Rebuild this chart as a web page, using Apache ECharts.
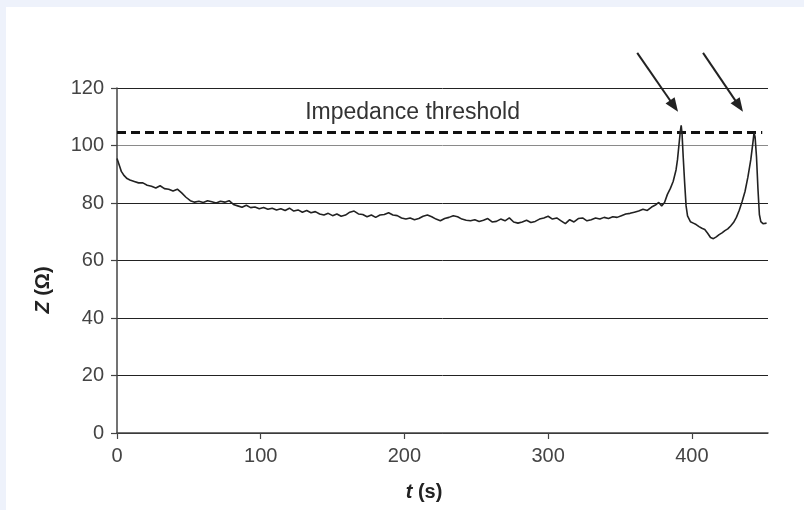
<!DOCTYPE html>
<html>
<head>
<meta charset="utf-8">
<script src="https://cdn.jsdelivr.net/npm/echarts@6/dist/echarts.min.js"></script>
<style>
html,body{margin:0;padding:0;background:#eef2fb;}
#c{width:804px;height:510px;}
</style>
</head>
<body>
<div id="c"></div>
<script>
// ---- data ----
var tValues = [0,1,2,3,5,7,9,12,15,18,21,24,27,30,33,36,39,42,45,48,51,54,57,60,63,66,69,72,75,78,81,84,87,90,93,96,99,102,105,108,111,114,117,120,123,126,129,132,135,138,141,144,147,150,153,156,159,162,165,168,171,174,177,180,183,186,189,192,195,198,201,204,207,210,213,216,219,222,225,228,231,234,237,240,243,246,249,252,255,258,261,264,267,270,273,276,279,282,285,288,291,294,297,300,303,306,309,312,315,318,321,324,327,330,333,336,339,342,345,348,351,354,357,360,363,366,369,372,375,377,379,381,383,385,387,389,390,391,392,392.6,393.2,394,395,396,397,399,401,403,405,407,409,411,413,415,417,419,421,423,425,427,429,431,433,435,437,439,441,442.5,443.3,444,445,446,447,448,449.5,452];
var zValues = [95.5,94,92.5,91,89.5,88.5,88,87.5,87,87,86.2,85.8,85.2,86,85,84.8,84.2,84.8,83.5,82,80.8,80.3,80.6,80.2,80.8,80.4,80,80.6,80.3,80.8,79.5,79,78.5,79.2,78.4,78.6,78,78.4,77.8,78.2,77.6,78,77.4,78.2,77.2,77.6,76.8,77.4,76.6,77,76.2,75.8,76.4,75.6,76.2,75.4,75.8,76.8,77.2,76.2,76,75.2,75.8,75,75.8,76,76.6,75.8,75.6,74.8,74.4,74.8,74.2,74.6,75.4,75.8,75.2,74.4,73.8,74.6,75,75.6,75.2,74.4,74,73.8,74.2,73.6,74,74.6,73.4,73.6,74.4,73.8,74.8,73.4,73,73.4,74,73.2,73.6,74.4,74.8,75.4,74.4,74.8,73.8,72.8,74.2,73.4,74.6,74.8,73.8,74.2,74.8,74.4,75,74.6,75.2,75,75.6,76.2,76.4,76.8,77.2,77.8,77.4,78.6,79.4,80.2,79,80.2,83,85,87.5,91.5,95,100,105,107,104,96,87,79,75.5,73.5,73,72.5,71.8,71.2,70.8,69.5,68,67.6,68.2,69,69.6,70.4,71,72,73.2,75,77.5,80.5,84,89,95,101,104.5,103,96,85,76,73.5,72.8,73];
var thresholdT = [0, 449];
var thresholdZ = [104.5, 104.5];
var thresholdLabel = 'Impedance threshold';
var thresholdLabelAt = [205, 111.5];
var arrowStarts = [[362, 132.2], [407.8, 132.2]];
var arrowTips = [[390.4, 111.7], [435.6, 111.7]];
var xTicks = [0, 100, 200, 300, 400];
var xTitle = '{i|t} (s)';
var yTitle = '{i|Z} (Ω)';

var FONT = 'Liberation Sans, Arial, sans-serif';
var chart = echarts.init(document.getElementById('c'), null, {renderer: 'canvas'});

function pairs(a, b) { return a.map(function (v, i) { return [v, b[i]]; }); }

var option = {
  animation: false,
  backgroundColor: '#eef2fb',
  grid: {left: 117, right: 36, top: 88, bottom: 77, containLabel: false},
  xAxis: {
    type: 'value', min: 0, max: 453, interval: 100,
    axisLine: {show: true, lineStyle: {color: '#444', width: 1.5}},
    axisTick: {show: true, length: 6, inside: false, customValues: xTicks, lineStyle: {color: '#444', width: 1.2}},
    axisLabel: {customValues: xTicks, margin: 13, color: '#444', fontSize: 20, fontFamily: FONT},
    splitLine: {show: false}
  },
  yAxis: {
    type: 'value', min: 0, max: 120, interval: 20,
    axisLine: {show: true, lineStyle: {color: '#444', width: 1.5}},
    axisTick: {show: true, length: 6, inside: false, lineStyle: {color: '#444', width: 1.2}},
    axisLabel: {margin: 13, color: '#444', fontSize: 20, fontFamily: FONT},
    splitLine: {show: true, lineStyle: {color: ['#222', '#222', '#222', '#222', '#222', '#8a8a8a', '#222'], width: 1}}
  },
  series: [
    {
      type: 'line', name: 'threshold', data: pairs(thresholdT, thresholdZ),
      showSymbol: false, silent: true, z: 3,
      lineStyle: {color: '#111', width: 3, type: [9, 5]}
    },
    {
      type: 'line', name: 'Z', data: pairs(tValues, zValues),
      showSymbol: false, silent: true, z: 4, clip: false,
      lineStyle: {color: '#222', width: 1.6}
    }
  ]
};
chart.setOption(option);

function px(p) { return chart.convertToPixel({gridIndex: 0}, p); }

var g = [
  {id: 'bg', type: 'rect', z: -100, silent: true, shape: {x: 6, y: 7, width: 798, height: 503}, style: {fill: '#ffffff'}},
  {id: 'ytitle', type: 'text', x: 43, y: 290, rotation: Math.PI / 2,
   style: {text: yTitle, font: 'bold 20px ' + FONT, fill: '#222', align: 'center', verticalAlign: 'middle',
           rich: {i: {fontStyle: 'italic', fontWeight: 'bold', fontSize: 20, fontFamily: FONT, fill: '#222'}}}},
  {id: 'xtitle', type: 'text', x: 424, y: 492,
   style: {text: xTitle, font: 'bold 20px ' + FONT, fill: '#222', align: 'center', verticalAlign: 'middle',
           rich: {i: {fontStyle: 'italic', fontWeight: 'bold', fontSize: 20, fontFamily: FONT, fill: '#222'}}}}
];
var lp = px(thresholdLabelAt);
g.push({id: 'thlabel', type: 'text', x: lp[0] + 1, y: lp[1],
        style: {text: thresholdLabel, font: '23px ' + FONT, fill: '#333', align: 'center', verticalAlign: 'middle'}});

arrowStarts.forEach(function (s, i) {
  var a = px(s), b = px(arrowTips[i]);
  var dx = b[0] - a[0], dy = b[1] - a[1], L = Math.sqrt(dx * dx + dy * dy);
  var ux = dx / L, uy = dy / L, nx = -uy, ny = ux;
  var hl = 14, hw = 5.5;
  var bx = b[0] - ux * hl, by = b[1] - uy * hl;
  g.push({id: 'arrowline' + i, type: 'line', shape: {x1: a[0], y1: a[1], x2: bx + ux * 2, y2: by + uy * 2},
          style: {stroke: '#222', lineWidth: 2}});
  g.push({id: 'arrowhead' + i, type: 'polygon',
          shape: {points: [[b[0], b[1]], [bx + nx * hw, by + ny * hw], [bx - nx * hw, by - ny * hw]]},
          style: {fill: '#222'}});
});
chart.setOption({graphic: g});
</script>
</body>
</html>
